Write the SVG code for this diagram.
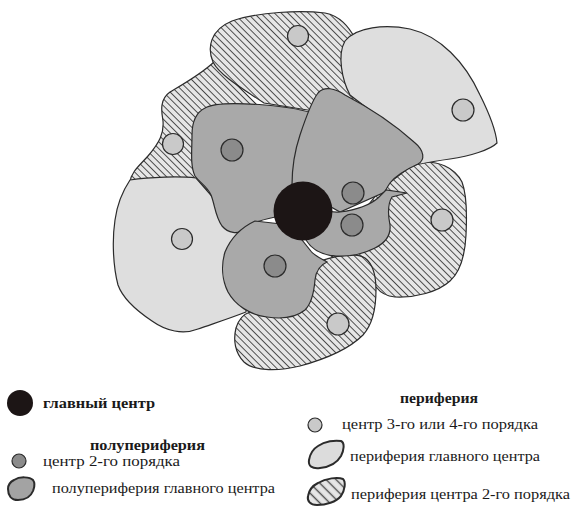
<svg xmlns="http://www.w3.org/2000/svg" width="572" height="506" viewBox="0 0 572 506">
<defs>
<pattern id="hatch" width="4.8" height="4.8" patternUnits="userSpaceOnUse" patternTransform="rotate(45)">
<rect width="4.8" height="4.8" fill="#e6e6e6"/>
<line x1="0" y1="2.4" x2="4.8" y2="2.4" stroke="#4a4a4a" stroke-width="1"/>
</pattern>
<pattern id="hatchL" width="7" height="7" patternUnits="userSpaceOnUse" patternTransform="rotate(45)">
<rect width="7" height="7" fill="#e6e6e6"/>
<line x1="0" y1="3.5" x2="7" y2="3.5" stroke="#4a4a4a" stroke-width="1.4"/>
</pattern>
</defs>
<style>
.hat{fill:url(#hatch);stroke:#2b2b2b;stroke-width:1.2}
.per{fill:#dedede;stroke:#2b2b2b;stroke-width:1.2}
.semi{fill:#a9a9a9;stroke:#2b2b2b;stroke-width:1.2}
.c3{fill:#c9c9c9;stroke:#2b2b2b;stroke-width:1.2}
.c2{fill:#8b8b8b;stroke:#2b2b2b;stroke-width:1.2}
.main{fill:#1c1515}
text{font-family:"Liberation Serif","DejaVu Serif","Times New Roman",serif;font-size:15px;fill:#1a1a1a}
.b{font-weight:bold;font-family:"Liberation Serif","DejaVu Serif",serif}
</style>
<g id="periphery-2nd-left">
<path class="hat" d="M 214,62 C 200,75 180,86 170,92 C 160,99 161,110 163,121 C 164,133 160,142 148,156 C 140,165 131,172 130,182 L 200,200 L 262,110 Z"/>
</g>
<g id="periphery-2nd-top">
<path class="hat" d="M 264,103 C 245,90 220,76 213,62 C 207,48 210,30 232,21 C 258,12 300,10 325,13 C 340,16 348,26 355,38 L 372,90 L 320,112 Z"/>
</g>
<g id="periphery-2nd-right">
<path class="hat" d="M 415,163 C 438,159 455,168 462,182 C 467,195 467,215 466,235 C 465,255 460,272 450,281 C 438,292 415,298 395,297 C 386,296 380,292 377,288 L 330,255 L 380,190 Z"/>
</g>
<g id="periphery-main-right">
<path class="per" d="M 350,95 C 342,80 337,55 345,41 C 356,27 385,24 410,29 C 440,36 465,62 480,95 C 490,115 496,132 497,143 C 490,150 470,156 450,159 C 435,161 425,163 415,165 L 372,112 Z"/>
</g>
<g id="periphery-main-left">
<path class="per" d="M 130,180 C 150,177 180,176 196,178 L 250,240 L 246,312 C 228,319 212,324 198,329 C 183,335 166,331 152,321 C 137,311 123,299 118,285 C 113,266 112,240 115,220 C 117,205 122,192 130,180 Z"/>
</g>
<g id="periphery-2nd-bottom">
<path class="hat" d="M 317,262 C 335,256 355,252 365,258 C 373,264 376,276 376,290 C 376,310 372,325 363,335 C 348,350 322,360 300,366 C 280,371 255,372 244,362 C 235,353 233,340 236,328 C 239,318 244,314 250,312 L 280,300 Z"/>
</g>
<g id="semi-upper-left">
<path class="semi" d="M 205,108 C 215,102 240,103 265,105 C 290,107 305,110 318,115 L 300,200 L 275,217 C 262,220 252,222 245,229 C 238,235 228,233 222,226 C 215,216 215,205 211,195 C 207,186 200,183 195,176 C 190,166 192,150 192,135 C 192,120 197,112 205,108 Z"/>
</g>
<g id="semi-upper-right">
<path class="semi" d="M 318,93 C 324,86 335,88 345,95 C 370,108 395,125 414,142 C 425,151 425,160 418,164 C 405,170 395,176 390,183 C 388,186 386,189 385,192 L 340,212 L 292,185 C 292,165 295,150 300,135 C 305,120 311,102 318,93 Z"/>
</g>
<g id="semi-lower-right">
<path class="semi" d="M 310,200 C 320,210 330,213 340,212 C 355,210 370,205 378,198 C 381,195 383,193 386,190 L 407,193 L 392,197 C 387,205 388,215 390,225 C 391,235 385,243 375,248 C 365,253 350,257 336,256 C 322,255 312,250 306,240 Z"/>
</g>
<g id="semi-lower">
<path class="semi" d="M 255,221 C 240,228 230,240 225,252 C 221,265 222,280 228,292 C 235,305 250,315 267,317 C 280,319 295,318 305,310 C 312,303 314,292 315,280 C 316,270 320,265 327,262 C 320,258 313,255 310,250 L 290,225 Z"/>
</g>
<g id="main-center">
<circle class="main" cx="303" cy="211" r="29.5"/>
</g>
<g id="centers-2nd">
<circle class="c2" cx="232" cy="150" r="11"/>
<circle class="c2" cx="353" cy="193" r="11"/>
<circle class="c2" cx="352" cy="225" r="11"/>
<circle class="c2" cx="275" cy="266" r="11"/>
</g>
<g id="centers-3rd">
<circle class="c3" cx="298" cy="36" r="10.5"/>
<circle class="c3" cx="463" cy="110" r="11"/>
<circle class="c3" cx="173" cy="144" r="10.5"/>
<circle class="c3" cx="182" cy="239" r="10.5"/>
<circle class="c3" cx="442" cy="220" r="11"/>
<circle class="c3" cx="338" cy="324" r="11"/>
</g>
<g id="legend-left">
<circle class="main" cx="20" cy="403" r="13"/>
<text class="b" x="43" y="408" textLength="112" lengthAdjust="spacingAndGlyphs">главный центр</text>
<text class="b" x="90" y="450" textLength="115" lengthAdjust="spacingAndGlyphs">полупериферия</text>
<circle class="c2" cx="19" cy="461" r="7"/>
<text x="43" y="466" textLength="137" lengthAdjust="spacingAndGlyphs">центр 2-го  порядка</text>
<path d="M 14,480 C 20,476 30,477 33,480 C 36,484 34,488 33,491 C 31,496 26,500 18,500 C 11,500 8,495 8,489 C 8,484 10,482 14,480 Z" fill="#a3a3a3" stroke="#2b2b2b" stroke-width="2"/>
<text x="52" y="493" textLength="223" lengthAdjust="spacingAndGlyphs">полупериферия главного центра</text>
</g>
<g id="legend-right">
<text class="b" x="400" y="403" textLength="78" lengthAdjust="spacingAndGlyphs">периферия</text>
<circle class="c3" cx="315" cy="425" r="7"/>
<text x="342" y="429" textLength="196" lengthAdjust="spacingAndGlyphs">центр 3-го или 4-го  порядка</text>
<path d="M 318,446 C 325,441 335,440 341,441 C 345,443 344,450 341,456 C 337,463 330,467 320,468 C 312,469 308,466 309,460 C 310,454 313,449 318,446 Z" fill="#dcdcdc" stroke="#2b2b2b" stroke-width="2"/>
<text x="350" y="461" textLength="190" lengthAdjust="spacingAndGlyphs">периферия главного центра</text>
<path d="M 318,483 C 326,478 338,477 343,479 C 346,482 345,490 341,496 C 336,502 326,505 317,505 C 310,505 307,501 308,496 C 309,490 312,486 318,483 Z" fill="url(#hatchL)" stroke="#2b2b2b" stroke-width="2"/>
<text x="351" y="499" textLength="219" lengthAdjust="spacingAndGlyphs">периферия центра 2-го порядка</text>
</g>
</svg>
